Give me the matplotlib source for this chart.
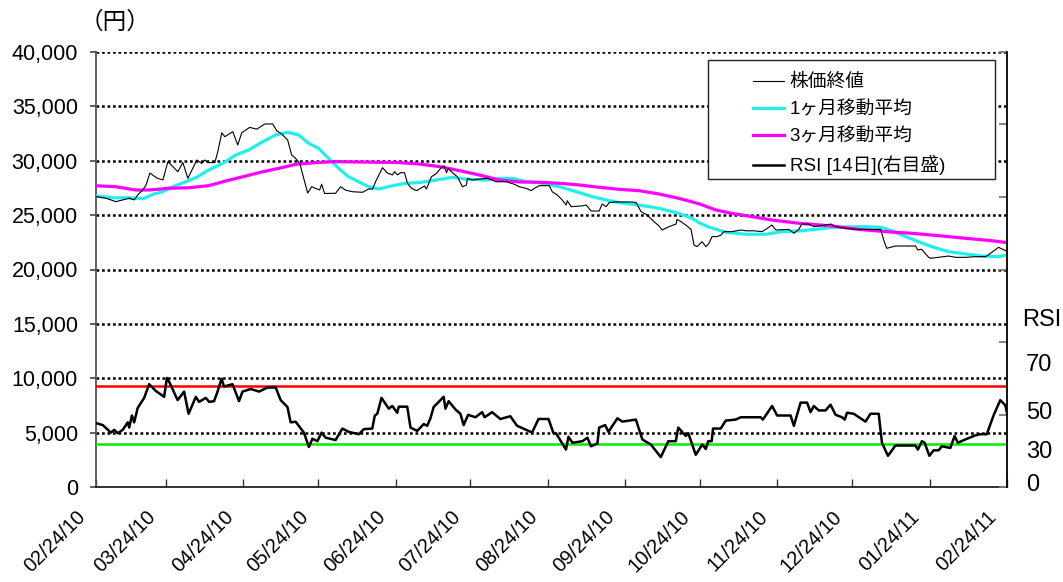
import matplotlib
matplotlib.use('Agg')
import matplotlib.pyplot as plt
import matplotlib.transforms as mtransforms
import numpy as np
import pandas as pd
from matplotlib.ticker import FuncFormatter, NullFormatter
from matplotlib.lines import Line2D
from matplotlib.patches import Rectangle

plt.rcParams['font.family'] = ['Liberation Sans', 'Noto Sans CJK JP', 'DejaVu Sans']

# ---------------- data ----------------
start_date = '2010-02-24'
end_date = '2011-02-24'
tick_dates = ['2010-02-24', '2010-03-24', '2010-04-24', '2010-05-24', '2010-06-24',
              '2010-07-24', '2010-08-24', '2010-09-24', '2010-10-24', '2010-11-24',
              '2010-12-24', '2011-01-24', '2011-02-24']
series_names = ['株価終値', '1ヶ月移動平均', '3ヶ月移動平均', 'RSI [14日](右目盛)']
unit_label = '（円）'
rsi_axis_title = 'RSI'
rsi_label_values = ['70', '50', '30', '0']
rsi_upper = 70
rsi_lower = 30

# days since start_date
price_day = [0, 4, 8, 10.7, 13.3, 15.3, 16.7, 18.7, 20, 21.6, 24.4, 26.8, 28.8, 32.8, 34.8, 36.8,
             40.4, 42.4, 43.6, 44.8, 47.6, 48.8, 50.4, 51.6, 54.8, 56.8, 58.4, 61.6, 64.4, 67.6,
             70.8, 72.4, 74.4, 75.6, 76.8, 78.4, 79.6, 81.6, 83.6, 84.8, 86.4, 89.6, 90.4, 91.6,
             93.6, 96, 98, 100, 102.8, 106.8, 109.2, 110.8, 112, 114.8, 116.8, 118.8, 119.6, 120.8,
             122, 123.6, 124.8, 126.4, 128.4, 129.6, 131.6, 132.4, 134.4, 136.4, 138.4, 139.6,
             140.4, 141.2, 142.8, 144.8, 146.8, 148.4, 148.8, 150.8, 152.8, 156.8, 160.4, 164.4,
             167.6, 169.6, 172.4, 174.4, 175.6, 177.6, 181.6, 182.8, 184.8, 186.8, 188.4, 188.8,
             190.4, 194.4, 196.4, 198.4, 201.6, 202.8, 204.4, 205.6, 208.4, 214.8, 216.4, 218.4,
             220.8, 223.6, 225.6, 226.8, 229.6, 232.4, 232.8, 234.4, 236.8, 238.4, 239.6, 240.8,
             242.8, 244.4, 245.6, 246.8, 248.8, 250.4, 251.6, 254.8, 258.4, 260.4, 263.6, 266.8,
             268.8, 270.8, 272.4, 277.6, 279.6, 281.6, 282.8, 285.6, 287.6, 289.6, 294.4, 296.4,
             300.4, 304.4, 314.4, 315.6, 316.8, 320.4, 328.4, 329.2, 330.8, 333.6, 334.4, 341.6,
             344.4, 348.4, 352.4, 356.4, 358.4, 361.6, 365]
price_val = [26700, 26550, 26240, 26400, 26550, 26400, 26850, 27310, 27740, 28870, 28410, 28230,
             29920, 28990, 29830, 28380, 30070, 29760, 30070, 29830, 29830, 30830, 32580, 32210,
             32670, 31450, 32580, 33070, 32900, 33380, 33380, 32760, 32460, 32180, 31900, 30530,
             30300, 29800, 28070, 27030, 27610, 27310, 27840, 26990, 27000, 27010, 27610, 27300,
             27150, 27100, 27400, 27400, 28070, 29360, 28860, 28700, 29000, 28700, 28900, 28900,
             27930, 27470, 27250, 27400, 27680, 27400, 28530, 28830, 29390, 29520, 28900, 29300,
             28900, 28530, 27610, 27760, 28380, 28230, 28300, 28380, 28070, 28070, 27840, 27610,
             27460, 27250, 27460, 27710, 27710, 27150, 26850, 26390, 25930, 26320, 25780, 25840,
             25930, 25380, 25380, 26020, 25780, 26150, 26210, 26210, 26150, 25320, 25010, 24400,
             24000, 23630, 23940, 24180, 24610, 24400, 24000, 23690, 22250, 22100, 22560, 22100,
             22410, 23020, 23020, 23170, 23480, 23480, 23630, 23560, 23560, 23480, 23750, 24090,
             23630, 23690, 23330, 23690, 24180, 24180, 23940, 24000, 24180, 23940, 23790, 23690,
             23690, 22710, 21950, 22160, 22160, 21800, 21860, 21120, 21030, 21240, 21120, 21120,
             21180, 21180, 21490, 22040, 21670]

ma1_day = [0, 6.7, 13.3, 18.8, 22.8, 26.8, 30.8, 36, 40, 45.2, 50.8, 56, 61.2, 66.8, 72, 76.8,
           81.2, 85.2, 89.2, 93.2, 97.2, 101.2, 105.2, 109.2, 113.2, 118.8, 124, 129.6, 134.8,
           142.8, 148.4, 156.4, 161.6, 166.8, 172.4, 177.6, 185.6, 192.4, 198.8, 204.4, 209.6,
           217.6, 225.6, 233.6, 238.8, 241.6, 245.6, 252.4, 260.4, 268.4, 274.8, 281.6, 288.4,
           294.8, 308.4, 314.4, 318.8, 324.4, 329.6, 334.8, 341.6, 348.4, 354.8, 361.6, 365]
ma1_val = [26760, 26600, 26600, 26500, 26910, 27160, 27610, 28070, 28440, 29150, 29760, 30530,
           30990, 31750, 32370, 32610, 32370, 31600, 31140, 30220, 29300, 28530, 28070, 27610,
           27400, 27700, 27930, 27990, 28170, 28480, 28300, 28230, 28380, 28380, 28080, 27980,
           27610, 27160, 26700, 26390, 26150, 25930, 25620, 25160, 24710, 24300, 23900, 23420,
           23240, 23240, 23480, 23550, 23690, 23880, 23940, 23880, 23570, 23020, 22560, 22100,
           21640, 21430, 21240, 21180, 21330]

ma3_day = [0, 8, 16, 21.2, 29.2, 37.2, 45.2, 50.8, 58.8, 66.8, 73.2, 80, 88, 96, 106.8, 121.6,
           129.6, 137.6, 145.6, 153.6, 161.6, 169.6, 177.6, 185.6, 193.6, 201.6, 209.6, 217.6,
           225.6, 233.6, 241.6, 248.4, 254.8, 262.8, 270.8, 281.6, 294.8, 305.6, 316.4, 326.8,
           337.6, 348.4, 358.8, 365]
ma3_val = [27700, 27610, 27310, 27310, 27470, 27520, 27710, 28070, 28530, 28990, 29300, 29670,
           29830, 29920, 29880, 29830, 29700, 29460, 29090, 28690, 28230, 28050, 28020, 27930,
           27770, 27560, 27370, 27250, 26940, 26540, 26040, 25470, 25160, 24860, 24550, 24250,
           24000, 23690, 23480, 23330, 23110, 22870, 22650, 22470]

rsi_day = [0, 2.7, 6, 7.3, 8.7, 10.7, 12.7, 13.3, 14.4, 15.3, 16.7, 19.3, 21.3, 24, 27.3, 28.4,
           29.6, 32.7, 35.3, 37.1, 40, 41.3, 44, 45.3, 47.3, 48.7, 50.3, 51.3, 54.7, 57.3, 58.7,
           62, 65.3, 68.7, 72, 74, 76.7, 78, 80, 83.3, 85.3, 86.7, 88.7, 90.4, 92, 96, 98.7,
           101.3, 105.3, 107.3, 110.7, 111.7, 112.7, 114.4, 117.3, 118.7, 120.7, 121.3, 124.7,
           126, 128.7, 131.3, 132.7, 134, 135.3, 139.3, 140, 141.3, 144, 146, 147.3, 149.1, 152,
           154.7, 155.7, 158.7, 162, 166, 168.7, 173.3, 174.7, 177.3, 181.3, 183.3, 184.3, 188.3,
           189.3, 190.9, 194.9, 196.9, 198.3, 200.9, 201.6, 204, 205.3, 208.9, 210.9, 216.3,
           218.9, 222.3, 226.3, 229.3, 232.3, 233.3, 236.3, 237.3, 240.3, 242.9, 244.3, 245.3,
           246.7, 247.2, 250.3, 252.3, 256.3, 258.3, 266.3, 267.2, 270.9, 272.9, 278.3, 279.6,
           282.3, 284.9, 286.3, 287.6, 289.6, 292.3, 294.3, 296.3, 298.9, 300, 300.9, 303.6,
           308.3, 310.3, 313.6, 314.9, 317.3, 320.3, 328.3, 329.3, 330.9, 332, 333.9, 335.6,
           337.6, 338.9, 342.3, 344, 345.3, 348.3, 352.3, 354.3, 356.9, 359.6, 362.3, 364.3, 365]
rsi_val = [44.1, 42.7, 37.5, 39.4, 37.1, 39.4, 44.6, 41, 49.3, 44.6, 54.5, 61.5, 70.9, 66.2, 62.2,
           75.2, 71.6, 59.9, 65.8, 50.5, 62.2, 58.7, 61.5, 58.7, 59.2, 65.8, 74.7, 69.3, 70.9,
           59.2, 65.8, 67.6, 65.8, 68.6, 68.6, 59.9, 55.2, 44.6, 45, 37.5, 27.6, 33.3, 31.6, 37.5,
           34, 32.4, 40.3, 38, 36.4, 39.9, 40.3, 49.3, 50.5, 61.5, 54, 55.9, 51.2, 55.4, 55.4, 41,
           38.7, 43.4, 42.2, 47.4, 55.2, 62.2, 54, 59.2, 53.5, 50.5, 42.7, 49.8, 48.1, 51.6, 48.1,
           51.6, 46.9, 48.8, 42.2, 38.7, 37.5, 46.9, 46.9, 37.1, 37.1, 25.8, 34.7, 30.5, 31.6, 34,
           28.1, 30, 41, 42.7, 38, 47.4, 45.1, 46.5, 32.8, 29.3, 20.6, 31.6, 31.6, 41, 35.2, 37.1,
           22.2, 29.3, 26.2, 31.6, 31.6, 40.3, 40.3, 45.8, 46.5, 48.1, 48.1, 46.5, 55.9, 49.3,
           49.3, 42.2, 58.2, 58.2, 51.6, 55.9, 52.8, 52.8, 56.8, 49.8, 48.1, 46.5, 51.2, 50.5,
           45.1, 50.5, 50.5, 30.5, 21.5, 28.6, 28.6, 25.8, 31.6, 30.5, 21.5, 25.3, 25.3, 28.1,
           26.9, 35.2, 30.5, 32.8, 35.6, 36.4, 36.4, 49.3, 59.9, 56.4, 51.2]

# ---------------- drawing ----------------
W, H = 1063, 582
fig = plt.figure(figsize=(W / 100, H / 100), dpi=100)
fig.patch.set_facecolor('white')
ax = fig.add_axes([96 / W, 95 / H, 911 / W, 435 / H])
ax2 = ax.twinx()

t0 = pd.Timestamp(start_date)
def to_dates(days):
    return t0 + pd.to_timedelta(np.asarray(days, dtype=float), unit='D')

ax.set_ylim(0, 40000)
ax.set_yticks(np.arange(0, 40001, 5000))
ax.yaxis.set_major_formatter(FuncFormatter(lambda v, p: f'{int(v):,}'))
for yv in np.arange(5000, 40001, 5000):
    ax.axhline(yv, color='black', lw=1.8, ls=(0, (1.1, 1.1)), zorder=1)

ax.plot(to_dates(price_day), price_val, color='black', lw=0.8, zorder=4)
ax.plot(to_dates(ma1_day), ma1_val, color='#22EEEE', lw=2.3, zorder=3)
ax.plot(to_dates(ma3_day), ma3_val, color='#FF00FF', lw=2.3, zorder=3)

ax2.set_ylim(0, 300)
ax2.axhline(rsi_upper, color='#FF0000', lw=1.8, zorder=2)
ax2.axhline(rsi_lower, color='#00EE00', lw=1.8, zorder=2)
ax2.plot(to_dates(rsi_day), rsi_val, color='black', lw=1.8, zorder=3)

ax.set_xlim(pd.Timestamp(start_date), pd.Timestamp(end_date))
tick_ts = pd.to_datetime(tick_dates)
ax.set_xticks(tick_ts)
ax.xaxis.set_major_formatter(NullFormatter())

for a in (ax, ax2):
    for s in a.spines.values():
        s.set_visible(False)
ax.spines['left'].set_visible(True)
ax.spines['left'].set_color('#555555')
ax.spines['left'].set_linewidth(1.3)
ax.spines['bottom'].set_visible(True)
ax.spines['bottom'].set_color('#222222')
ax.spines['bottom'].set_linewidth(1.3)
ax2.spines['right'].set_visible(True)
ax2.spines['right'].set_color('black')
ax2.spines['right'].set_linewidth(1.3)

ax.tick_params(axis='y', direction='out', length=4, width=1.1, color='#333333',
               labelsize=15.5, pad=9)
ax.tick_params(axis='x', direction='in', length=6, width=1.0, color='#333333')

# rotated date labels
lab_trans = ax.get_xaxis_transform() + mtransforms.ScaledTranslation(-13 / 100, -27 / 100,
                                                                      fig.dpi_scale_trans)
for ts in tick_ts:
    ax.text(ts, 0, ts.strftime('%m/%d/%y'), transform=lab_trans, rotation=45,
            rotation_mode='anchor', ha='right', va='center', fontsize=14.5, clip_on=False)

ax2.set_yticks(np.arange(0, 301, 50))
ax2.set_yticklabels([])
ax2.tick_params(axis='y', direction='in', length=6, width=1.3, color='#777777')

# right-hand RSI labels
rsi_label_pos = [84, 51, 24, 1.4]
for txt, yp in zip(rsi_label_values, rsi_label_pos):
    ax2.text(1.021, yp, txt, transform=ax2.get_yaxis_transform(), ha='left', va='center',
             fontsize=17, clip_on=False)
ax2.text(1.0165, 115, rsi_axis_title, transform=ax2.get_yaxis_transform(), ha='left',
         va='center', fontsize=17, clip_on=False)

fig.text(115 / W, 1 - 22 / H, unit_label, ha='center', va='center', fontsize=17,
         family=['Noto Sans CJK JP'])

# legend
fig.patches.append(Rectangle((708 / W, 1 - 179 / H), 287 / W, 119 / H,
                             transform=fig.transFigure, facecolor='white',
                             edgecolor='#222222', lw=1.0, zorder=5))
handles = [Line2D([], [], color='black', lw=0.8),
           Line2D([], [], color='#22EEEE', lw=2.3),
           Line2D([], [], color='#FF00FF', lw=2.3),
           Line2D([], [], color='black', lw=1.8)]
leg = fig.legend(handles, series_names, loc='upper left',
                 bbox_to_anchor=(738 / W, 1 - 59 / H), frameon=False, fontsize=13.5,
                 handlelength=1.65, handletextpad=0.3, labelspacing=0.52, borderpad=0.3)
leg.set_zorder(6)

fig.savefig('out.png', dpi=100, facecolor='white')
